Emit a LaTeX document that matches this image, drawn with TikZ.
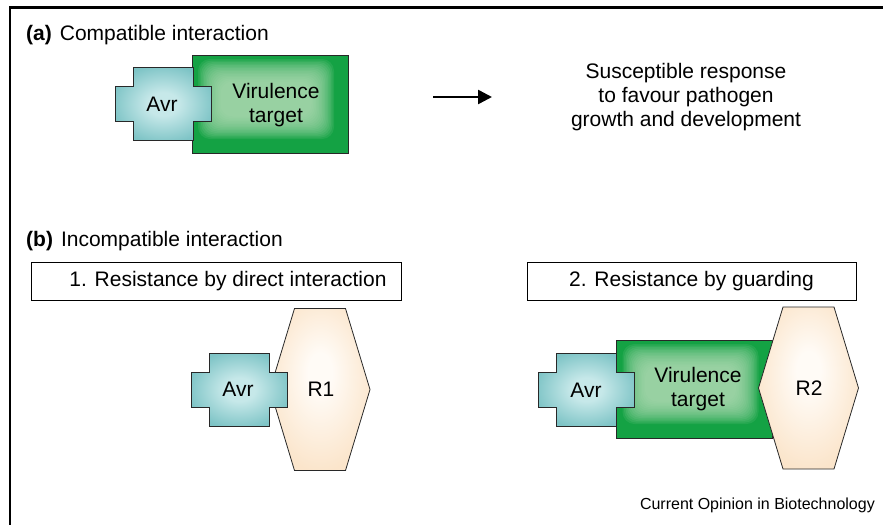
\documentclass[tikz,border=0pt]{standalone}
\usepackage{fontspec}
\setmainfont{Liberation Sans}
\usetikzlibrary{arrows.meta}
\definecolor{gdark}{RGB}{20,162,68}
\definecolor{glight}{RGB}{180,223,184}
\definecolor{tdark}{RGB}{126,196,198}
\definecolor{tlight}{RGB}{198,232,233}
\definecolor{pdark}{RGB}{251,229,203}
\definecolor{plight}{RGB}{255,251,246}
\definecolor{edge}{RGB}{40,40,40}
\pgfdeclareradialshading{tealglow}{\pgfpoint{0bp}{0bp}}{color(0bp)=(tlight); color(8bp)=(tlight); color(27bp)=(tdark); color(50bp)=(tdark)}
\pgfdeclareradialshading{peachglow}{\pgfpoint{0bp}{6bp}}{color(0bp)=(plight); color(6bp)=(plight); color(28bp)=(pdark); color(50bp)=(pdark)}
\begin{document}
\begin{tikzpicture}[x=1pt,y=-1pt,
  outline/.style={draw=edge,line width=0.8pt},
  lbl/.style={font=\fontsize{21}{24}\selectfont,inner sep=0pt},
  boxlbl/.style={draw=black,line width=1pt,minimum width=370pt,minimum height=38pt,font=\fontsize{21}{24}\selectfont,inner sep=0pt},
  avr/.pic={\path[outline,shading=tealglow] (-30,-36.5) -- (30,-36.5) -- (30,-17.5) -- (48,-17.5) -- (48,17.5) -- (30,17.5) -- (30,36.5) -- (-30,36.5) -- (-30,17.5) -- (-48,17.5) -- (-48,-17.5) -- (-30,-17.5) -- cycle;},
  hexa/.pic={\path[outline,shading=peachglow] (-25.5,-81) -- (25.5,-81) -- (50,0) -- (25.5,81) -- (-25.5,81) -- (-50,0) -- cycle;},
  vtarget/.pic={
    \path[fill=gdark] (-78,-49) rectangle (78,49);
    \foreach \k in {0,...,15}{
      \path[fill=glight,fill opacity=0.11,rounded corners=12pt]
        ({-78+6+1.5*\k},{-49+4+1.5*\k}) rectangle ({78-14-1.5*\k},{49-14-1.5*\k});
    }
    \path[outline] (-78,-49) rectangle (78,49);}
]
\useasboundingbox (0,0) rectangle (883,525);
\draw[line width=2.5pt] (883,7.5) -- (10,7.5) -- (10,525);

% (a)
\node[lbl,anchor=west] (la) at (26,35) {\textbf{(a)}\hspace{8pt}Compatible interaction};
\pic at (270,104) {vtarget};
\pic at (163,104) {avr};
\node[lbl] (avra) at (162,104) {Avr};
\node[lbl,align=center] (vta) at (276,105.5) {Virulence\\target};
\coordinate (arrs) at (433,97);
\coordinate (arre) at (492,97);
\draw[line width=2.5pt,-{Triangle[length=14pt,width=14pt]}] (arrs) -- (arre);
\node[lbl,align=center] (resp) at (686,97) {Susceptible response\\to favour pathogen\\growth and development};

% (b)
\node[lbl,anchor=west] (lb) at (26,241) {\textbf{(b)}\hspace{8pt}Incompatible interaction};
\node[boxlbl] (box1) at (216,281) {};
\node[lbl] (box1t) at (228,281) {1. Resistance by direct interaction};
\node[boxlbl,minimum width=329pt] (box2) at (691.5,281) {2. Resistance by guarding};

\pic at (320,389.5) {hexa};
\pic at (239.5,389.5) {avr};
\node[lbl] (avrb) at (238,389.5) {Avr};
\node[lbl] (r1) at (321,389.5) {R1};

\pic at (694.5,389) {vtarget};
\pic at (808.5,388) {hexa};
\pic at (586.5,389.5) {avr};
\node[lbl] (avrc) at (586,390) {Avr};
\node[lbl,align=center] (vtb) at (698,389.5) {Virulence\\target};
\node[lbl] (r2) at (809,388) {R2};

\node[font=\fontsize{16}{19}\selectfont,anchor=east,inner sep=0pt] (src) at (875,505) {Current Opinion in Biotechnology};
\end{tikzpicture}
\end{document}
